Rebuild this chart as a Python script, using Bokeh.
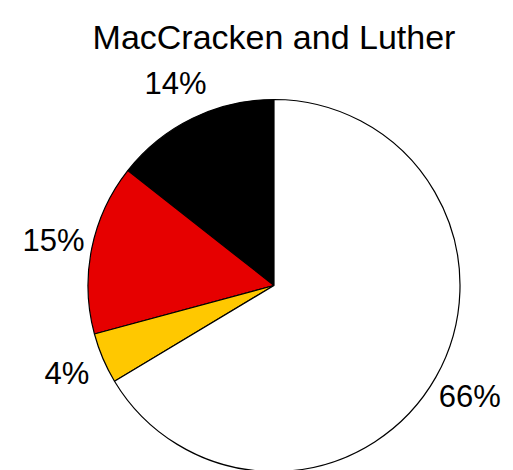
import math
from bokeh.plotting import figure
from bokeh.models import ColumnDataSource, Range1d, Label
from bokeh.core.properties import value
from bokeh.embed import file_html
from bokeh.resources import INLINE

# Data (slices counter-clockwise from 12 o'clock)
slices = ["Black", "Red", "Yellow", "White"]
shares = [14.4, 14.8, 4.4, 66.4]
labels = ["14%", "15%", "4%", "66%"]
colors = ["#000000", "#E60000", "#FFC800", "#FFFFFF"]
title_text = "MacCracken and Luther"

total = sum(shares)
starts, ends, lx, ly = [], [], [], []
a = math.pi / 2
for s in shares:
    e = a + 2 * math.pi * s / total
    starts.append(a)
    ends.append(e)
    m = (a + e) / 2
    lx.append(1.21 * math.cos(m))
    ly.append(1.21 * math.sin(m))
    a = e

src = ColumnDataSource(dict(name=slices, start=starts, end=ends, color=colors,
                            lx=lx, ly=ly, label=labels))

W, H = 513, 470
p = figure(width=W, height=H, output_backend="svg", toolbar_location=None,
           x_range=Range1d(-1.4704, 1.2876), y_range=Range1d(-0.9946, 1.5323),
           min_border=0)
p.axis.visible = False
p.grid.visible = False
p.outline_line_color = None
p.background_fill_color = "white"
p.border_fill_color = "white"

p.wedge(x=0, y=0, radius=1, start_angle="start", end_angle="end",
        direction="anticlock", fill_color="color", line_color="black",
        line_width=1.2, source=src)

p.text(x="lx", y="ly", text="label", source=src, text_align="center",
       text_baseline="middle", text_font=value("Liberation Sans"),
       text_font_size="31px", text_color="black")

p.add_layout(Label(x=0, y=434, x_units="data", y_units="screen", text=title_text,
                   text_align="center", text_baseline="alphabetic",
                   text_font="Liberation Sans", text_font_size="34px",
                   text_color="black"))

open("out.html", "w").write(file_html(p, INLINE))
